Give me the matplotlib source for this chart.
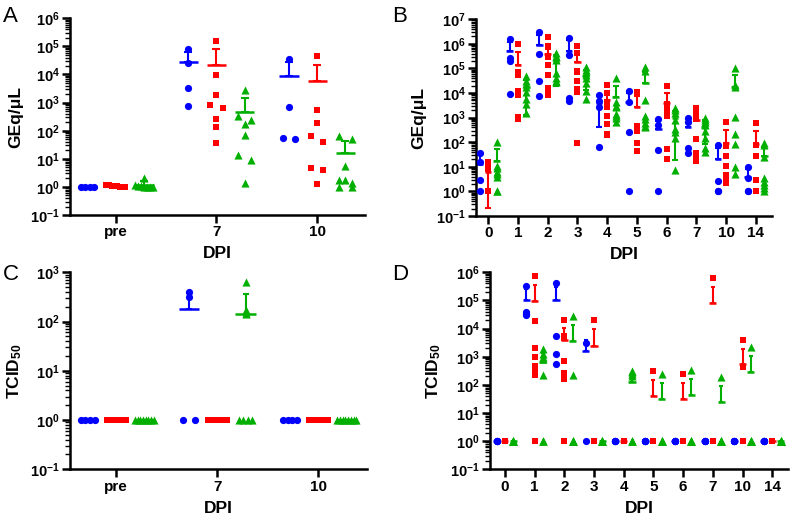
import numpy as np
import matplotlib
matplotlib.use("Agg")
import matplotlib.pyplot as plt
from matplotlib.ticker import LogLocator, FuncFormatter, NullFormatter

plt.rcParams['font.family'] = ['Liberation Sans', 'DejaVu Sans']
plt.rcParams['font.weight'] = 'bold'
plt.rcParams['mathtext.fontset'] = 'custom'
plt.rcParams['mathtext.rm'] = 'Liberation Sans:bold'
plt.rcParams['mathtext.bf'] = 'Liberation Sans:bold'
plt.rcParams['mathtext.it'] = 'Liberation Sans:bold:italic'

colors = ["#0000FF", "#FF0000", "#00AF00"]
markers = ["o", "s", "^"]
marker_sizes = [27, 25, 34]

# Panel A: GEq/uL, three sampling days
a_days = ["pre", "7", "10"]
a_blue = [[1, 1, 1, 1],
          [79000, 25000, 3300, 740],
          [36000, 700, 55, 52]]
a_red = [[1.2, 1.15, 1.1, 1.1, 1.05, 1, 1, 1],
         [160000, 9400, 1800, 830, 630, 265, 140, 36],
         [47000, 535, 185, 63, 40, 4.7, 4.1, 1.24]]
a_green = [[2.1, 1.2, 1.1, 1.1, 1, 1, 1, 1],
           [2800, 336, 235, 174, 73, 13.4, 9.1, 1.35],
           [65, 51, 5.7, 1.7, 1.7, 1.4, 1, 1]]

# Panel B: GEq/uL, daily
b_days = ["0", "1", "2", "3", "4", "5", "6", "7", "10", "14"]
b_blue = [[35, 15, 2.8, 1],
          [1.6e6, 2.6e5, 2.0e5, 9400],
          [3e6, 4e5, 3.2e4, 7900],
          [1.8e6, 3.4e5, 6300, 4900],
          [8600, 4900, 2600, 63],
          [12500, 4200, 250, 1],
          [850, 500, 48, 1],
          [940, 690, 60, 38],
          [75, 2.75, 1, 1],
          [9.6, 3.4, 1, 1]]
b_red = [[16, 12, 10, 8, 1, 1, 1, 1],
         [9.5e5, 7.5e4, 5.5e4, 1.2e4, 1e4, 8500, 1100, 900],
         [1.85e6, 7.2e5, 3e5, 1.45e5, 5.2e4, 1.56e4, 1.2e4, 8100],
         [8.3e5, 4.2e5, 8e4, 7e4, 3e4, 1.45e4, 1.1e4, 97],
         [2.2e4, 9800, 4000, 2600, 1200, 560, 220, 200],
         [11000, 9500, 450, 400, 350, 300, 90, 45],
         [20000, 3500, 2500, 2000, 1500, 1200, 51, 21],
         [2400, 1800, 1200, 900, 130, 35, 22, 17],
         [650, 73, 28, 11, 4.7, 3.4, 2.8, 2.3],
         [600, 75, 28, 2.8, 1, 1, 1, 1]]
b_green = [[100, 11, 9, 6, 5, 4, 1, 1],
           [5.1e4, 3e4, 2.3e4, 1.8e4, 1.07e4, 5800, 3600, 1600],
           [4.4e5, 3.3e5, 2.8e5, 2.2e5, 6.5e4, 4e4, 3e4, 2.8e4],
           [1.1e5, 9e4, 7e4, 5.5e4, 4e4, 2.5e4, 1.2e4, 5500],
           [4e4, 4500, 3000, 2600, 1400, 1200, 1000, 650],
           [1.1e5, 8e4, 5000, 1200, 900, 600, 450, 400],
           [2400, 2000, 1500, 800, 350, 270, 150, 7.5],
           [950, 800, 650, 500, 300, 150, 60, 40],
           [1e5, 2.2e4, 1.8e4, 1040, 210, 83, 10, 5],
           [95, 80, 26, 3.4, 2.5, 1.8, 1.4, 1]]

# Panel C: TCID50, three sampling days
c_days = ["pre", "7", "10"]
c_blue = [[1, 1, 1, 1],
          [400, 310, 1, 1],
          [1, 1, 1, 1]]
c_red = [[1] * 8, [1] * 8, [1] * 8]
c_green = [[1] * 8,
           [650, 170, 150, 140, 1, 1, 1, 1],
           [1] * 8]

# Panel D: TCID50, daily
d_days = ["0", "1", "2", "3", "4", "5", "6", "7", "10", "14"]
d_blue = [[1, 1, 1, 1],
          [3.2e5, 3.8e4, 3.3e4, 3e4],
          [4.1e5, 5500, 1260, 550],
          [3200, 1],
          [1, 1, 1, 1],
          [1, 1, 1, 1],
          [1, 1, 1, 1],
          [1, 1, 1, 1],
          [1, 1, 1, 1],
          [1, 1, 1, 1]]
d_red = [[1] * 8,
         [7.4e5, 1.9e4, 2000, 1000, 480, 330, 230, 1],
         [2e4, 5500, 4500, 710, 260, 195, 160, 1],
         [2e4, 1, 1, 1, 1, 1, 1, 1],
         [1] * 8,
         [310, 1, 1, 1, 1, 1, 1, 1],
         [240, 1, 1, 1, 1, 1, 1, 1],
         [6.5e5, 1, 1, 1, 1, 1, 1, 1],
         [3900, 440, 1, 1, 1, 1, 1, 1],
         [1] * 8]
d_green = [[1] * 8,
           [1900, 1300, 1000, 800, 220, 1, 1, 1],
           [2.9e4, 225, 1, 1, 1, 1, 1, 1],
           [1] * 8,
           [320, 280, 240, 200, 1, 1, 1, 1],
           [250, 1, 1, 1, 1, 1, 1, 1],
           [350, 1, 1, 1, 1, 1, 1, 1],
           [190, 1, 1, 1, 1, 1, 1, 1],
           [2300, 1, 1, 1, 1, 1, 1, 1],
           [1] * 8]


def swarm(vals, cx, tol, px_per_unit):
    # spread points that sit in the same row (close in log value) side by side
    xs = np.full(len(vals), float(cx))
    if tol is None:
        return xs
    logs = np.log10(vals)
    rows = []
    for idx in np.argsort(-vals, kind="stable"):
        if rows and logs[rows[-1][0]] - logs[idx] <= tol:
            rows[-1].append(idx)
        else:
            rows.append([idx])
    for row in rows:
        n = len(row)
        if n < 2:
            continue
        width = 12.5 + max(0, n - 3) * 1.3
        xs[row] = cx + np.linspace(-width / 2, width / 2, n) / px_per_unit
    return xs


def draw_panel(ax, days, series, ylim, xlim, ylabel, tol, px_per_unit,
               mean_half, capsize):
    offsets = [-0.28, 0.0, 0.28]
    for k, groups in enumerate(series):
        for i, vals in enumerate(groups):
            vals = np.asarray(vals, dtype=float)
            cx = i + offsets[k]
            m = vals.mean()
            sd = vals.std(ddof=1) if len(vals) > 1 else 0.0
            lo = sd if m - sd > 0 else 0.0
            ax.errorbar(cx, m, yerr=[[lo], [sd]], fmt="none", ecolor=colors[k],
                        elinewidth=1.5, capsize=capsize, capthick=1.5, zorder=2)
            ax.hlines(m, cx - mean_half, cx + mean_half, colors=colors[k],
                      lw=1.8, zorder=2)
            xs = swarm(vals, cx, tol, px_per_unit)
            ax.scatter(xs, vals, marker=markers[k], s=marker_sizes[k],
                       color=colors[k], linewidths=0, zorder=3)

    ax.set_yscale("log")
    ax.set_ylim(*ylim)
    ax.set_xlim(*xlim)
    ax.yaxis.set_major_locator(LogLocator(base=10, numticks=20))
    ax.yaxis.set_minor_locator(LogLocator(base=10, subs=np.arange(2, 10), numticks=20))
    ax.yaxis.set_major_formatter(FuncFormatter(lambda v, p: r"$10^{%d}$" % round(np.log10(v))))
    ax.yaxis.set_minor_formatter(NullFormatter())
    ax.set_xticks(np.arange(len(days)))
    ax.set_xticklabels(days)
    for s in ["top", "right"]:
        ax.spines[s].set_visible(False)
    for s in ["left", "bottom"]:
        ax.spines[s].set_linewidth(1.8)
    ax.tick_params(axis="both", which="major", length=5.5, width=1.8, pad=2)
    ax.tick_params(axis="y", which="major", labelsize=10.5)
    ax.tick_params(axis="x", which="major", labelsize=11)
    ax.tick_params(axis="y", which="minor", length=3.5, width=1.0)
    ax.set_xlabel("DPI", fontsize=12.5, fontweight="bold", labelpad=5)
    ax.set_ylabel(ylabel, fontsize=12.5, fontweight="bold", va="center")


fig = plt.figure(figsize=(7.9, 5.19), dpi=100)
W, H = 790.0, 519.0


def add_axes(left, right, top, bottom):
    return fig.add_axes([left / W, 1 - bottom / H, (right - left) / W, (bottom - top) / H])


ax_a = add_axes(70, 365, 18.3, 215)
ax_b = add_axes(476, 771.7, 19.3, 216)
ax_c = add_axes(70, 366.7, 272.3, 469.3)
ax_d = add_axes(490, 788, 272.3, 469.3)

draw_panel(ax_a, a_days, [a_blue, a_red, a_green], (0.1, 1e6), (-0.455, 2.475),
           "GEq/μL", 0.22, 101.0, 0.095, 3.2)
draw_panel(ax_b, b_days, [b_blue, b_red, b_green], (0.1, 1e7), (-0.41, 9.53),
           "GEq/μL", None, 29.7, 0.11, 2.4)
draw_panel(ax_c, c_days, [c_blue, c_red, c_green], (0.1, 1e3), (-0.455, 2.477),
           "TCID$_{50}$", 0.02, 101.2, 0.1, 2.0)
draw_panel(ax_d, d_days, [d_blue, d_red, d_green], (0.1, 1e6), (-0.5, 9.53),
           "TCID$_{50}$", None, 29.7, 0.12, 1.7)

ax_a.yaxis.set_label_coords(-0.183, 0.5)
ax_b.yaxis.set_label_coords(-0.194, 0.5)
ax_c.yaxis.set_label_coords(-0.185, 0.5)
ax_d.yaxis.set_label_coords(-0.19, 0.5)

for letter, x, y in [("A", 3, 6), ("B", 392, 6), ("C", 3, 264), ("D", 392, 264)]:
    fig.text(x / W, 1 - y / H, letter, fontsize=16, fontweight="normal",
             ha="left", va="top")

fig.savefig("out.png", dpi=100)
